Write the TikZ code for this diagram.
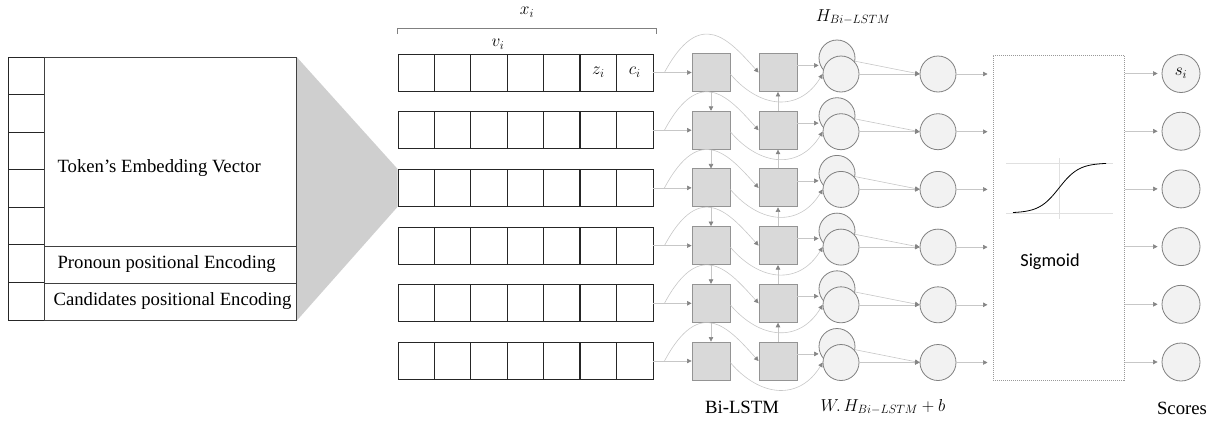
\documentclass[tikz,border=0pt]{standalone}
\usepackage{fontspec}
\setmainfont{Liberation Serif}
\newfontfamily\sigfont{Carlito}
\usetikzlibrary{arrows.meta,calc,backgrounds}

\begin{document}
\begin{tikzpicture}
	[
		x=1pt, y=-1pt,
		every node/.style = {font=\fontsize{18.7}{22}\selectfont},
		cell/.style = {shape=rectangle, draw=black!85, line width=0.9pt, minimum width=36.4pt, minimum height=37pt, inner sep=0pt, anchor=center},
		side/.style = {cell, minimum width=36pt, minimum height=37.6pt},
		part/.style = {shape=rectangle, draw=black!75, line width=0.7pt, minimum width=252pt, inner sep=0pt, anchor=north west},
		lstm/.style = {shape=rectangle, fill=black!15, draw=black!42, line width=0.9pt, minimum size=38pt, inner sep=0pt},
		unit/.style = {shape=circle, fill=black!5, draw=black!50, line width=0.8pt, minimum size=36pt, inner sep=0pt},
		link/.style = {draw=black!22, line width=0.6pt, -{Triangle[length=4.5pt,width=4.5pt,color=black!48]}}
	]
	
	\useasboundingbox (0,0) rectangle (1221,426);
	
	% token vector, left
	\foreach \k in {1,...,7}
		\node [side] (col-\k) at (26, {57+(\k-0.5)*37.57}) {};
	\node [part, minimum height=189pt] (emb) at (44,57) {};
	\node [part, minimum height=37pt] (pron) at (44,246) {};
	\node [part, minimum height=37pt] (cand) at (44,283) {};
	\node [anchor=west] (emb-txt) at (54,168) {Token’s Embedding Vector};
	\node [anchor=west] (pron-txt) at (54,264) {Pronoun positional Encoding};
	\node [anchor=west] (cand-txt) at (50,301) {Candidates positional Encoding};
	
	% inputs and layers
	\foreach \r in {1,...,6} {
		\pgfmathsetmacro\y{72.5+(\r-1)*57.7}
		\foreach \c in {1,...,7}
			\node [cell] (in-\r-\c) at ({398+(\c-0.5)*36.43}, \y) {};
		\draw [line width=1.4pt, black!85] (in-\r-6.north west) -- (in-\r-6.south west);
		\node [lstm] (f-\r) at (711, \y) {};
		\node [lstm] (b-\r) at (778, \y) {};
		\node [unit] (hb-\r) at (837, {\y-14.5}) {};
		\node [unit] (hf-\r) at (841, {\y+1.5}) {};
		\node [unit] (m-\r) at (938, {\y+1.5}) {};
		\node [unit, minimum size=38pt] (s-\r) at (1181, {\y+1}) {};
	}
	
	\begin{scope}[on background layer]
		\fill [black!19] (emb.north east) -- (in-3-1.north west) -- (in-3-1.south west) -- (cand.south east) -- cycle;
	\end{scope}
	
	\node (zi) at (in-1-6) {$z_i$};
	\node (ci) at (in-1-7) {$c_i$};
	\draw [black!50, line width=0.6pt] (397,34) -- (397,28) -- (656,28) -- (656,34);
	\node (xi) at (527,12) {$x_i$};
	\node (vi) at (498,44) {$v_i$};
	\node (h-txt) at (853,17) {$H_{Bi-LSTM}$};
	
	% sigmoid
	\node [draw=black!40, densely dotted, line width=1pt, minimum width=131pt, minimum height=325pt, inner sep=0pt] (sig) at (1058.5,217.5) {};
	\draw [black!12, line width=0.6pt] (1006,163) -- (1113,163);
	\draw [black!12, line width=0.6pt] (1006,213) -- (1113,213);
	\draw [black!12, line width=0.6pt] (1059,158) -- (1059,219);
	\draw [black, line width=0.8pt, domain=1013:1106, samples=60] plot (\x, {213-50/(1+exp(-(\x-1059)/10))});
	\node [font=\sigfont\fontsize{18.3}{22}\selectfont] (sig-txt) at (1050,262) {Sigmoid};
	
	% connections
	\foreach \r in {1,...,6} {
		\coordinate (sp-\r) at ($(in-\r-7.east)+(11,0)$);
		\draw [black!22, line width=0.6pt] (in-\r-7.east) -- (sp-\r);
		\draw [link] (sp-\r) -- (f-\r);
		\draw [link] (sp-\r) .. controls +(36,-67) and +(-29,-32) .. (b-\r.west);
		\draw [link] (f-\r.-5) .. controls +(30,35) and +(-23,38) .. (hf-\r.west);
		\draw [link] (b-\r.20) -- (b-\r.20 -| hb-\r.west);
		\draw [link] (hb-\r.-10) -- (m-\r.west);
		\draw [link] (hf-\r) -- (m-\r);
		\draw [link, shorten >=5pt] (m-\r) -- (m-\r -| sig.west);
		\draw [link, shorten >=4pt] (s-\r -| sig.east) -- (s-\r);
	}
	\foreach \r [evaluate=\r as \n using int(\r+1)] in {1,...,5} {
		\draw [link] (f-\r) -- (f-\n);
		\draw [link] (b-\n) -- (b-\r);
	}
	
	\node (si) at (s-1) {$s_i$};
	\node (bi-txt) at (742,407) {Bi-LSTM};
	\node (w-txt) at (883,407) {$W.\,H_{Bi-LSTM}+b$};
	\node (sc-txt) at (1182,408) {Scores};
	
\end{tikzpicture}
\end{document}
